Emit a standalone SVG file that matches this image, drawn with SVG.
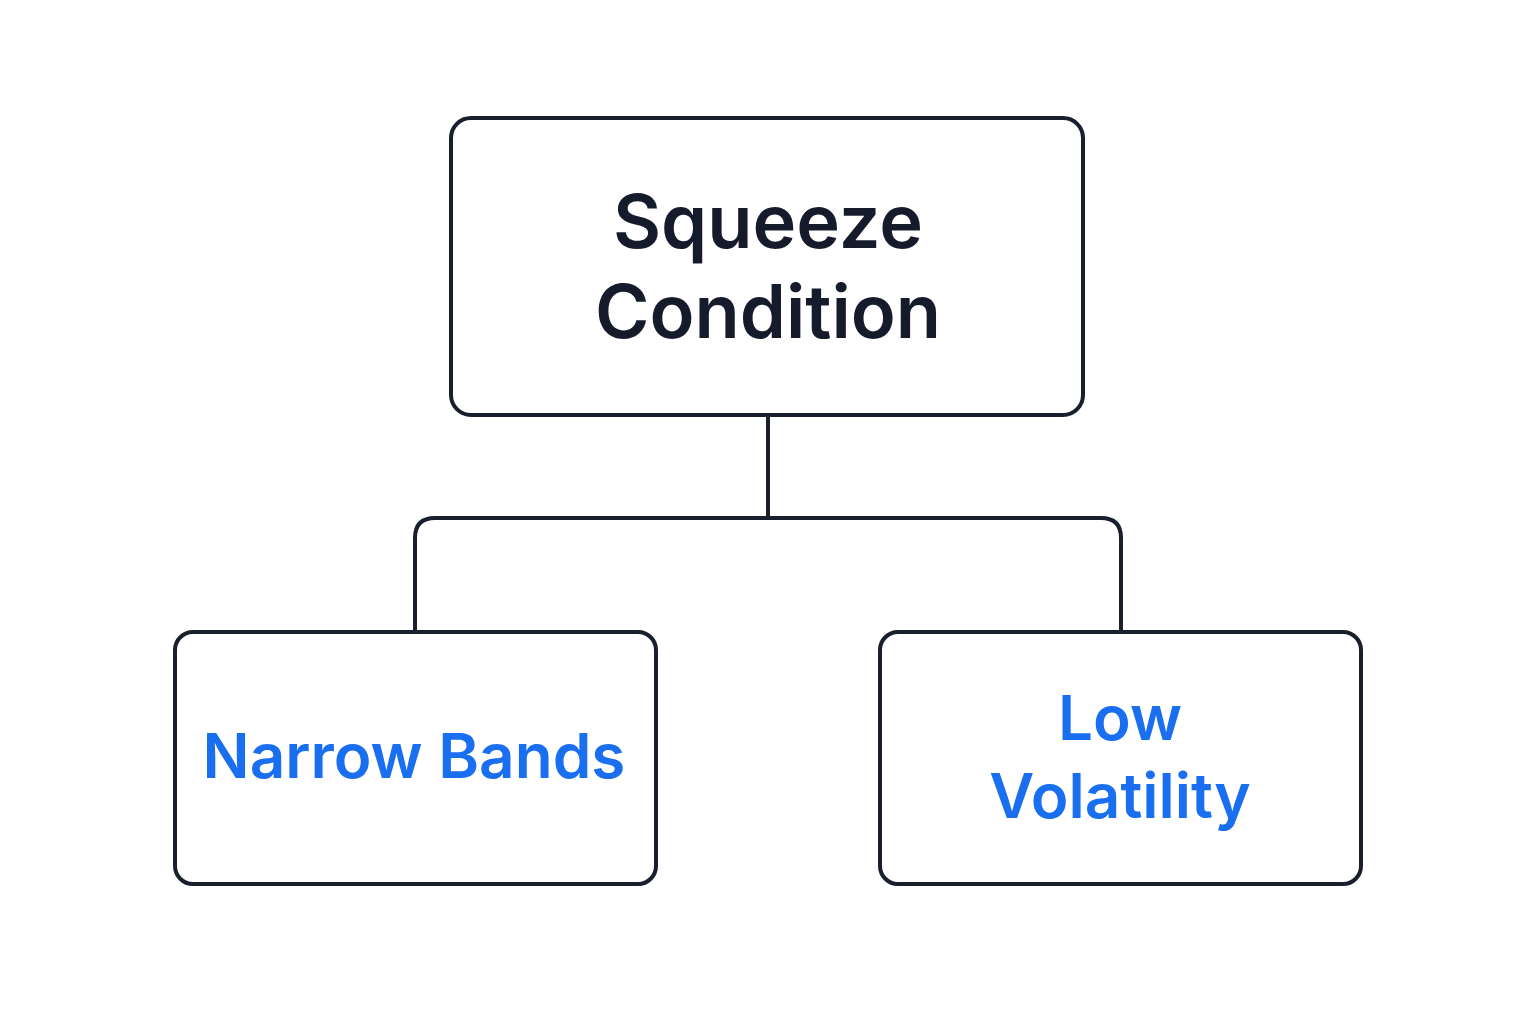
<svg xmlns="http://www.w3.org/2000/svg" width="1536" height="1024" viewBox="0 0 1536 1024">
<style>
.box{fill:#fff;stroke:#1a1f2e;stroke-width:4}
.conn{fill:none;stroke:#1a1f2e;stroke-width:4}
.t1{font-family:Inter,"Liberation Sans",sans-serif;font-weight:600;font-size:74px;fill:#161b2c;text-anchor:middle}
.t2{font-family:Inter,"Liberation Sans",sans-serif;font-weight:600;font-size:62px;fill:#1a6ff0;text-anchor:middle}
</style>
<rect width="1536" height="1024" fill="#fff"/>
<g id="connectors">
<path class="conn" d="M768 415 V518 M415 632 V538 Q415 518 435 518 H1101 Q1121 518 1121 538 V632"/>
</g>
<g id="root"><rect class="box" x="451" y="118" width="632" height="297" rx="20"/>
<text class="t1" x="768" y="248">Squeeze</text><text class="t1" x="768" y="338">Condition</text></g>
<g id="narrow"><rect class="box" x="175" y="632" width="481" height="252" rx="18"/>
<text class="t2" x="414" y="778">Narrow Bands</text></g>
<g id="low"><rect class="box" x="880" y="632" width="481" height="252" rx="18"/>
<text class="t2" x="1120" y="740">Low</text><text class="t2" x="1120" y="818">Volatility</text></g>
</svg>
